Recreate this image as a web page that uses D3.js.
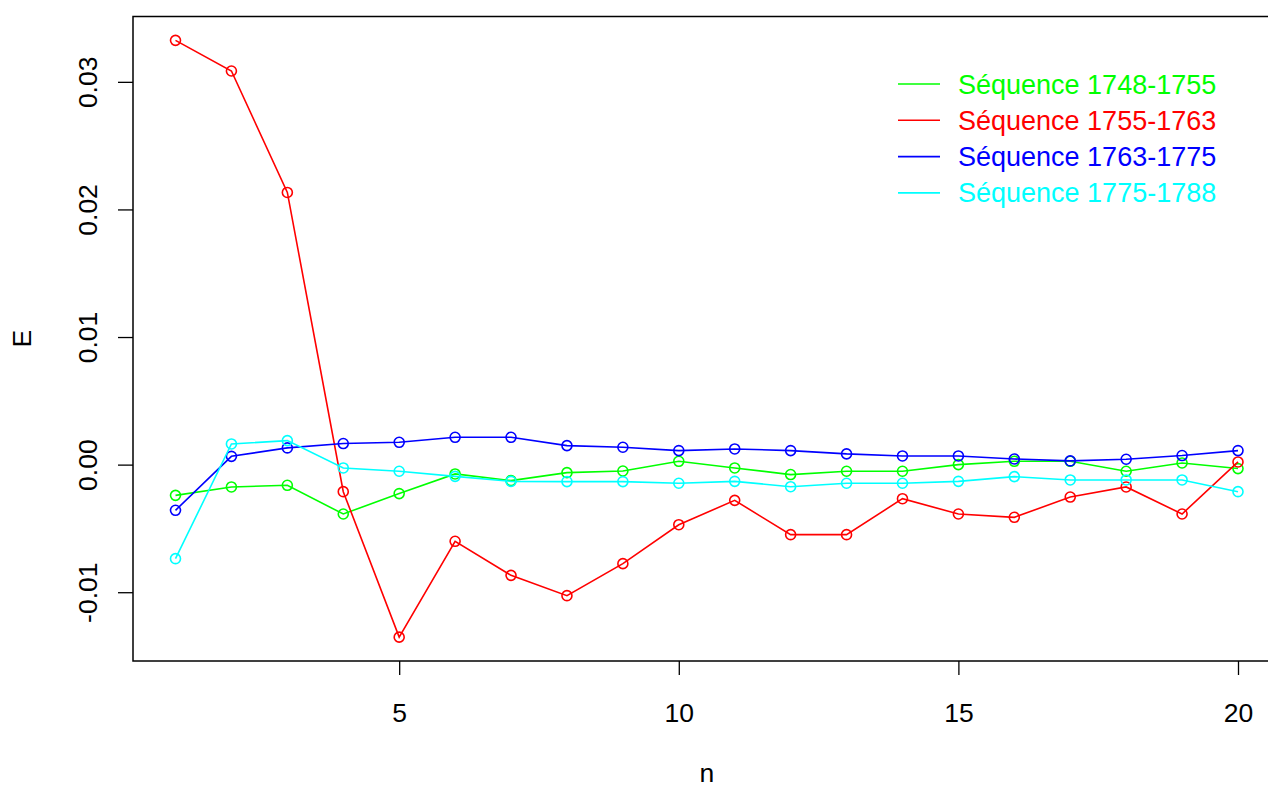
<!DOCTYPE html>
<html>
<head>
<meta charset="utf-8">
<script src="https://cdn.jsdelivr.net/npm/d3@7"></script>
<style>
  html, body { margin: 0; padding: 0; background: #fff; }
  svg { display: block; }
  text { font-family: "Liberation Sans", Arial, Helvetica, sans-serif; }
</style>
</head>
<body>
<svg id="chart" width="1268" height="787"></svg>
<script>
const nValues = [1,2,3,4,5,6,7,8,9,10,11,12,13,14,15,16,17,18,19,20];
const seriesNames = ["Séquence 1748-1755", "Séquence 1755-1763", "Séquence 1763-1775", "Séquence 1775-1788"];
const seriesColors = ["#00ff00", "#ff0000", "#0000ff", "#00ffff"];
const seq1748 = [-0.00241,-0.00175,-0.00162,-0.00387,-0.00227,-0.00073,-0.00125,-0.00063,-0.00050,0.00026,
                 -0.00026,-0.00078,-0.00052,-0.00052,0.00000,0.00026,0.00026,-0.00052,0.00013,-0.00031];
const seq1755 = [0.03325,0.03085,0.02133,-0.00212,-0.01352,-0.00601,-0.00868,-0.01027,-0.00776,-0.00471,
                 -0.00280,-0.00549,-0.00549,-0.00267,-0.00387,-0.00413,-0.00254,-0.00175,-0.00387,0.00021];
const seq1763 = [-0.00358,0.00065,0.00131,0.00165,0.00175,0.00214,0.00214,0.00149,0.00136,0.00110,
                 0.00123,0.00110,0.00084,0.00068,0.00068,0.00044,0.00029,0.00042,0.00071,0.00110];
const seq1775 = [-0.00737,0.00162,0.00188,-0.00026,-0.00052,-0.00092,-0.00131,-0.00133,-0.00133,-0.00146,
                 -0.00131,-0.00173,-0.00146,-0.00146,-0.00131,-0.00094,-0.00120,-0.00120,-0.00120,-0.00212];
const xTicks = [5,10,15,20];
const yTicks = [-0.01,0,0.01,0.02,0.03];
const yTickLabels = ["-0.01","0.00","0.01","0.02","0.03"];
const xLabel = "n";
const yLabel = "E";

(function () {
const series = [seq1748, seq1755, seq1763, seq1775];

const svg = d3.select("#chart");
const pLeft = 133, pRight = 1280.5, pTop = 16.5, pBottom = 661;
const FS = 26.5;
const LFS = 27;

// R-style 4% extension of ranges
const xMin = d3.min(nValues), xMax = d3.max(nValues);
const xPad = (xMax - xMin) * 0.04;
const allY = series.flat();
const yMin = d3.min(allY), yMax = d3.max(allY);
const yPad = (yMax - yMin) * 0.04;

const x = d3.scaleLinear().domain([xMin - xPad, xMax + xPad]).range([pLeft, pRight]);
const y = d3.scaleLinear().domain([yMin - yPad, yMax + yPad]).range([pBottom, pTop]);

// series
const line = d3.line().x((d, i) => x(nValues[i])).y(d => y(d));
series.forEach((s, k) => {
  const g = svg.append("g");
  g.append("path").datum(s).attr("d", line)
    .attr("fill", "none").attr("stroke", seriesColors[k]).attr("stroke-width", 1.6);
  g.selectAll("circle").data(s).enter().append("circle")
    .attr("cx", (d, i) => x(nValues[i])).attr("cy", d => y(d)).attr("r", 5)
    .attr("fill", "none").attr("stroke", seriesColors[k]).attr("stroke-width", 1.6);
});

// box
svg.append("rect").attr("x", pLeft).attr("y", pTop)
  .attr("width", pRight - pLeft).attr("height", pBottom - pTop)
  .attr("fill", "none").attr("stroke", "#000").attr("stroke-width", 1.5);

// x axis
const xAxis = d3.axisBottom(x).tickValues(xTicks).tickSize(14).tickPadding(0).tickFormat(d3.format("d"));
const gx = svg.append("g").attr("transform", `translate(0,${pBottom})`).call(xAxis);
gx.select(".domain").remove();
gx.selectAll(".tick line").attr("stroke", "#000").attr("stroke-width", 1.3);
gx.selectAll(".tick text").attr("y", 61).attr("dy", null)
  .style("font-family", '"Liberation Sans", Arial, sans-serif').style("font-size", FS + "px").attr("fill", "#000");

// y axis
const yAxis = d3.axisLeft(y).tickValues(yTicks).tickSize(15).tickFormat((d, i) => yTickLabels[i]);
const gy = svg.append("g").attr("transform", `translate(${pLeft},0)`).call(yAxis);
gy.select(".domain").remove();
gy.selectAll(".tick line").attr("stroke", "#000").attr("stroke-width", 1.3);
gy.selectAll(".tick text")
  .attr("x", null).attr("dy", null)
  .attr("text-anchor", "middle")
  .attr("transform", "translate(-36,0) rotate(-90)")
  .style("font-family", '"Liberation Sans", Arial, sans-serif').style("font-size", FS + "px").attr("fill", "#000");

// axis titles
svg.append("text").attr("x", (pLeft + pRight) / 2).attr("y", 782)
  .attr("text-anchor", "middle").style("font-size", FS + "px").text(xLabel);
svg.append("text").attr("transform", `translate(31,${(pTop + pBottom) / 2}) rotate(-90)`)
  .attr("text-anchor", "middle").style("font-size", FS + "px").text(yLabel);

// legend
const legY0 = 84, legDy = 36.3;
const leg = svg.append("g");
seriesNames.forEach((name, k) => {
  const cy = legY0 + k * legDy;
  leg.append("line").attr("x1", 898).attr("x2", 940).attr("y1", cy).attr("y2", cy)
    .attr("stroke", seriesColors[k]).attr("stroke-width", 1.6);
  leg.append("text").attr("x", 958).attr("y", cy + 9.5)
    .style("font-size", LFS + "px").attr("fill", seriesColors[k]).text(name);
});
})();
</script>
</body>
</html>
